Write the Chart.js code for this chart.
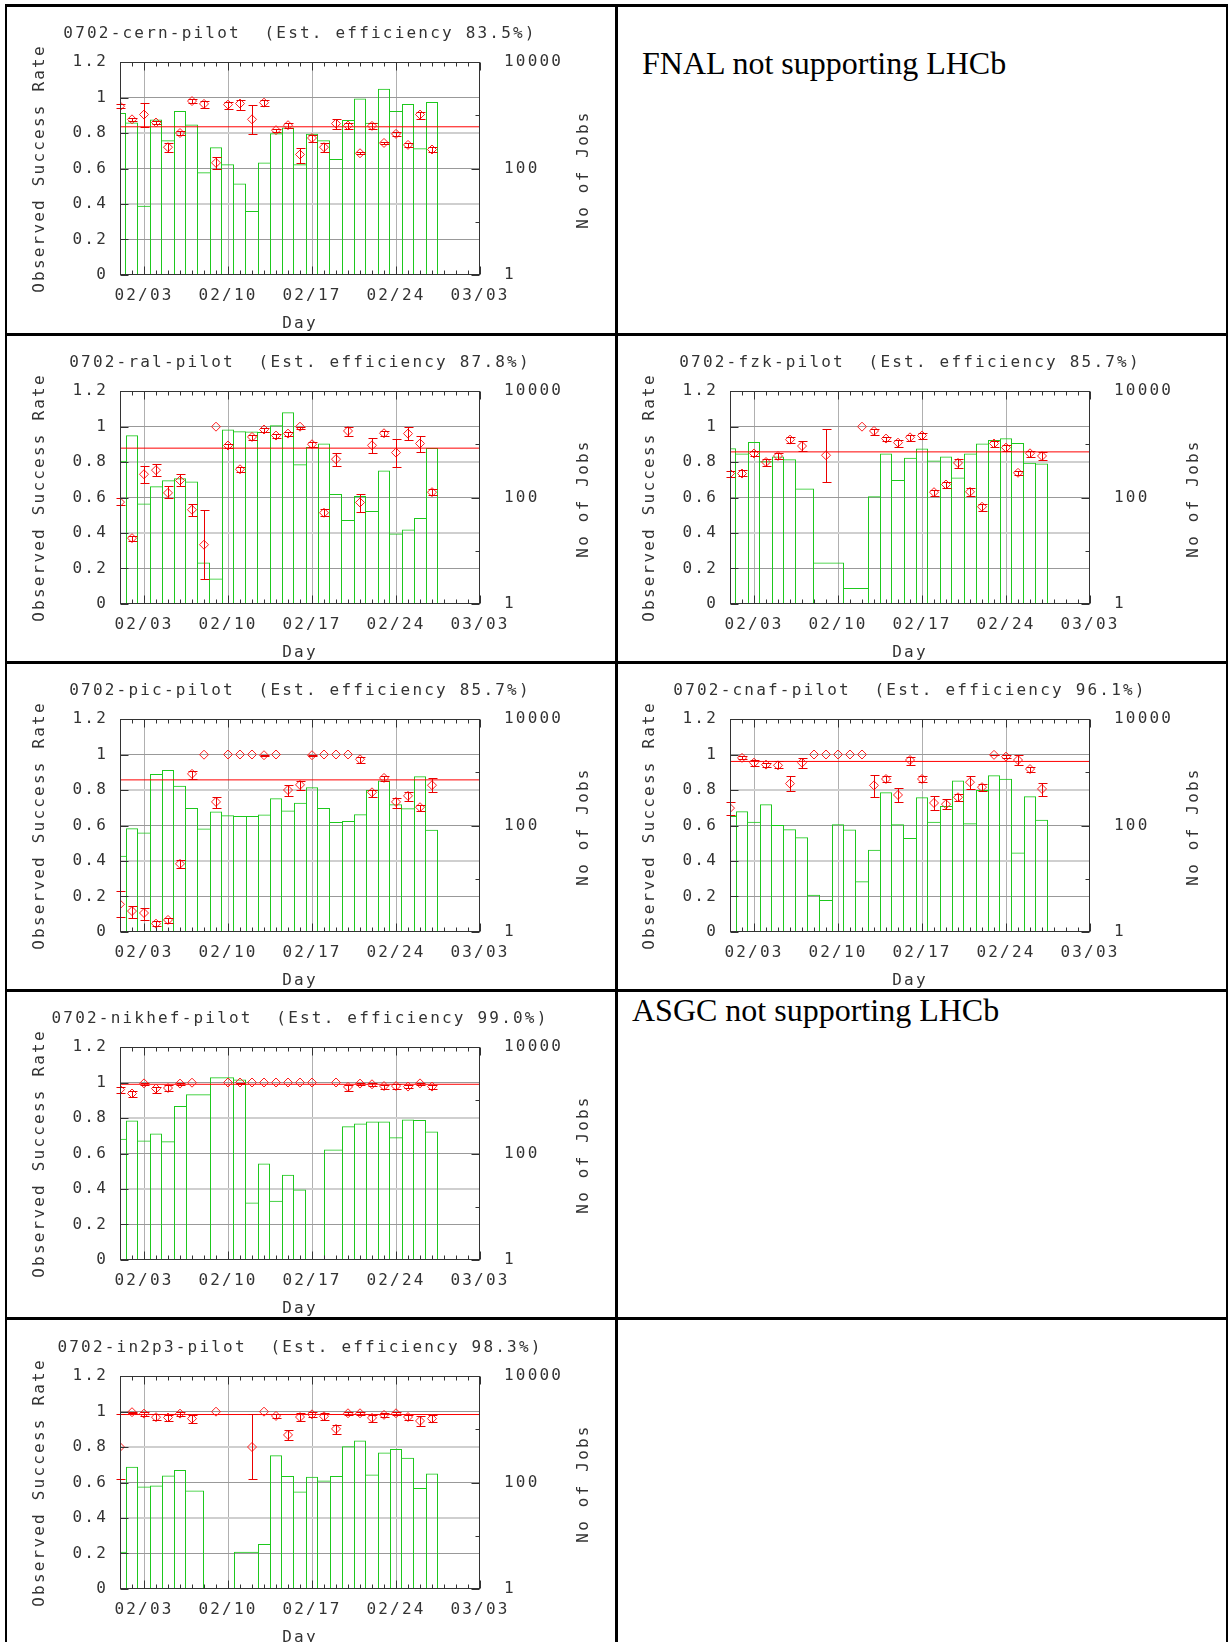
<!DOCTYPE html>
<html lang="en">
<head>
  <meta charset="UTF-8" />
  <title>0702 pilot efficiency</title>
  <script src="https://cdn.jsdelivr.net/npm/chart.js"></script>
  <style>
    body { margin: 0; background: #fff; overflow: hidden; }
    .rule { position: absolute; background: #000; }
    .plot { position: absolute; }
    .note { position: absolute; font-family: "Liberation Serif", "Times New Roman", serif; font-size: 32px; line-height: 32px; white-space: nowrap; color: #000; }
  </style>
</head>
<body>
  <!-- table rules -->
  <div class="rule" style="left:5px; top:4px; width:1223px; height:3px"></div>
  <div class="rule" style="left:5px; top:333px; width:1223px; height:3px"></div>
  <div class="rule" style="left:5px; top:661px; width:1223px; height:3px"></div>
  <div class="rule" style="left:5px; top:989px; width:1223px; height:3px"></div>
  <div class="rule" style="left:5px; top:1317px; width:1223px; height:3px"></div>
  <div class="rule" style="left:5px; top:4px; width:2px; height:1638px"></div>
  <div class="rule" style="left:615px; top:4px; width:3px; height:1638px"></div>
  <div class="rule" style="left:1226px; top:4px; width:2px; height:1638px"></div>

  <canvas class="plot" id="cern" width="608" height="326" style="left:7px; top:7px"></canvas>
  <div class="note" style="left:642px; top:47px">FNAL not supporting LHCb</div>
  <canvas class="plot" id="ral" width="608" height="326" style="left:7px; top:336px"></canvas>
  <canvas class="plot" id="fzk" width="608" height="326" style="left:617px; top:336px"></canvas>
  <canvas class="plot" id="pic" width="608" height="326" style="left:7px; top:664px"></canvas>
  <canvas class="plot" id="cnaf" width="608" height="326" style="left:617px; top:664px"></canvas>
  <canvas class="plot" id="nikhef" width="608" height="326" style="left:7px; top:992px"></canvas>
  <div class="note" style="left:632px; top:994px">ASGC not supporting LHCb</div>
  <canvas class="plot" id="in2p3" width="608" height="326" style="left:7px; top:1321px"></canvas>

  <script>
    // axes (day 1 = 02/01)
    const xTickDays = [3, 10, 17, 24, 31];
    const xTickLabels = ['02/03', '02/10', '02/17', '02/24', '03/03'];
    const yTickValues = [0, 0.2, 0.4, 0.6, 0.8, 1, 1.2];
    const yTickLabels = ['0', '0.2', '0.4', '0.6', '0.8', '1', '1.2'];
    const jobsTickValues = [1, 10, 100, 1000, 10000];
    const jobsTickLabels = ['1', '', '100', '', '10000'];
    const xTitle = 'Day';
    const yTitle = 'Observed Success Rate';
    const jobsTitle = 'No of Jobs';

    const days27 = [1, 2, 3, 4, 5, 6, 7, 8, 9, 10, 11, 12, 13, 14, 15, 16, 17, 18, 19, 20, 21, 22, 23, 24, 25, 26, 27];

    // cern
    const cernEff = 0.835;
    const cernRate = [0.951, 0.877, 0.904, 0.859, 0.72, 0.80, 0.98, 0.964, 0.632, 0.96, 0.966, 0.877, 0.971, 0.816, 0.844, 0.679, 0.772, 0.72, 0.853, 0.842, 0.686, 0.84, 0.744, 0.795, 0.733, 0.904, 0.707];
    const cernLo = [0.94, 0.87, 0.833, 0.85, 0.692, 0.79, 0.97, 0.943, 0.60, 0.936, 0.932, 0.797, 0.951, 0.808, 0.827, 0.632, 0.752, 0.692, 0.825, 0.825, 0.679, 0.823, 0.736, 0.782, 0.723, 0.881, 0.692];
    const cernHi = [0.962, 0.885, 0.97, 0.87, 0.744, 0.81, 0.99, 0.98, 0.662, 0.973, 0.988, 0.958, 0.984, 0.824, 0.857, 0.718, 0.791, 0.744, 0.881, 0.855, 0.693, 0.855, 0.752, 0.808, 0.743, 0.921, 0.722];
    const cernJobs = [1100, 730, 20, 830, 340, 1200, 670, 85, 250, 120, 52, 16, 130, 460, 590, 120, 450, 340, 150, 810, 2060, 720, 3160, 1200, 1630, 240, 1780];

    // ral
    const ralEff = 0.878;
    const ralRate = [0.574, 0.371, 0.731, 0.754, 0.626, 0.696, 0.531, 0.334, 0.999, 0.893, 0.759, 0.941, 0.983, 0.949, 0.96, 0.999, 0.90, 0.514, 0.816, 0.975, 0.572, 0.894, 0.962, 0.853, 0.96, 0.904, 0.63];
    const ralLo = [0.555, 0.356, 0.681, 0.722, 0.596, 0.662, 0.493, 0.141, 0.999, 0.881, 0.746, 0.924, 0.969, 0.934, 0.947, 0.988, 0.887, 0.493, 0.78, 0.949, 0.521, 0.853, 0.947, 0.771, 0.924, 0.857, 0.613];
    const ralHi = [0.60, 0.384, 0.78, 0.786, 0.662, 0.733, 0.566, 0.529, 0.999, 0.902, 0.774, 0.953, 0.994, 0.96, 0.971, 1.0, 0.911, 0.534, 0.853, 0.996, 0.621, 0.934, 0.975, 0.93, 1.0, 0.949, 0.649];
    const ralJobs = [490, 1480, 77, 163, 210, 230, 200, 6, 3, 1890, 1750, 1740, 1690, 2280, 3980, 420, 890, 1030, 116, 38, 107, 56, 320, 21, 25, 41, 850];

    // fzk
    const fzkEff = 0.857;
    const fzkDays = [1, 2, 3, 4, 5, 6, 7, 9, 12, 13, 14, 15, 16, 17, 18, 19, 20, 21, 22, 23, 24, 25, 26, 27];
    const fzkRate = [0.735, 0.735, 0.848, 0.80, 0.834, 0.926, 0.89, 0.838, 0.999, 0.975, 0.932, 0.909, 0.939, 0.949, 0.63, 0.673, 0.795, 0.632, 0.548, 0.904, 0.881, 0.739, 0.849, 0.834];
    const fzkLo = [0.718, 0.72, 0.831, 0.778, 0.816, 0.906, 0.861, 0.686, 0.999, 0.954, 0.917, 0.885, 0.921, 0.932, 0.608, 0.651, 0.769, 0.611, 0.523, 0.887, 0.862, 0.724, 0.83, 0.812];
    const fzkHi = [0.752, 0.756, 0.862, 0.816, 0.853, 0.943, 0.919, 0.986, 0.999, 0.988, 0.943, 0.926, 0.953, 0.964, 0.645, 0.69, 0.819, 0.651, 0.564, 0.917, 0.893, 0.752, 0.864, 0.857];
    const fzkJobs = [845, 670, 1100, 480, 590, 525, 148, 6, 2, 105, 670, 212, 560, 830, 494, 590, 238, 670, 1030, 1200, 1300, 1060, 447, 433];

    // pic
    const picEff = 0.857;
    const picRate = [0.156, 0.118, 0.107, 0.047, 0.068, 0.384, 0.891, 0.999, 0.733, 1.0, 1.0, 1.0, 0.996, 1.0, 0.80, 0.829, 0.996, 1.0, 1.0, 1.0, 0.973, 0.787, 0.868, 0.733, 0.767, 0.703, 0.827];
    const picLo = [0.084, 0.081, 0.068, 0.032, 0.053, 0.36, 0.861, 0.999, 0.698, 1.0, 1.0, 1.0, 0.99, 1.0, 0.767, 0.801, 0.99, 1.0, 1.0, 1.0, 0.954, 0.763, 0.849, 0.70, 0.739, 0.681, 0.786];
    const picHi = [0.231, 0.146, 0.137, 0.06, 0.079, 0.403, 0.909, 0.999, 0.759, 1.0, 1.0, 1.0, 1.0, 1.0, 0.829, 0.851, 1.0, 1.0, 1.0, 1.0, 0.984, 0.801, 0.878, 0.754, 0.789, 0.716, 0.866];
    const picJobs = [27, 89, 74, 930, 1100, 560, 212, 88, 183, 156, 151, 151, 161, 326, 191, 267, 525, 212, 116, 122, 163, 464, 697, 251, 210, 845, 83];

    // cnaf
    const cnafEff = 0.961;
    const cnafRate = [0.698, 0.981, 0.954, 0.943, 0.939, 0.836, 0.954, 1.0, 1.0, 1.0, 1.0, 1.0, 0.826, 0.862, 0.772, 0.969, 0.862, 0.727, 0.72, 0.759, 0.844, 0.816, 0.998, 0.988, 0.969, 0.918, 0.806];
    const cnafLo = [0.66, 0.973, 0.934, 0.93, 0.922, 0.797, 0.926, 1.0, 1.0, 1.0, 1.0, 1.0, 0.759, 0.847, 0.735, 0.943, 0.843, 0.685, 0.692, 0.737, 0.806, 0.797, 0.995, 0.979, 0.94, 0.904, 0.767];
    const cnafHi = [0.735, 0.99, 0.971, 0.954, 0.962, 0.878, 0.98, 1.0, 1.0, 1.0, 1.0, 1.0, 0.887, 0.877, 0.81, 0.988, 0.881, 0.765, 0.748, 0.776, 0.878, 0.833, 1.0, 0.997, 0.999, 0.931, 0.839];
    const cnafJobs = [150, 185, 118, 251, 102, 85, 60, 5, 4, 106, 84, 9, 35, 423, 106, 58, 339, 118, 233, 697, 110, 464, 878, 759, 31, 355, 128];

    // nikhef
    const nikhefEff = 0.99;
    const nikhefDays = [1, 2, 3, 4, 5, 6, 7, 10, 11, 12, 13, 14, 15, 16, 17, 19, 20, 21, 22, 23, 24, 25, 26, 27];
    const nikhefRate = [0.96, 0.938, 0.995, 0.966, 0.969, 0.994, 0.999, 1.0, 1.0, 1.0, 1.0, 1.0, 1.0, 1.0, 1.0, 1.0, 0.975, 0.994, 0.99, 0.98, 0.98, 0.977, 0.995, 0.977];
    const nikhefLo = [0.943, 0.919, 0.985, 0.943, 0.951, 0.986, 0.999, 1.0, 0.99, 1.0, 1.0, 1.0, 1.0, 1.0, 1.0, 1.0, 0.954, 0.986, 0.982, 0.966, 0.966, 0.97, 0.988, 0.962];
    const nikhefHi = [0.975, 0.951, 1.0, 0.977, 0.988, 1.0, 0.999, 1.0, 1.0, 1.0, 1.0, 1.0, 1.0, 1.0, 1.0, 1.0, 0.984, 1.0, 0.997, 0.988, 0.99, 0.984, 1.0, 0.984];
    const nikhefJobs = [189, 417, 175, 238, 169, 782, 1300, 2710, 2440, 12, 65, 13, 40, 21, 1, 119, 326, 366, 398, 398, 203, 433, 427, 259];

    // in2p3
    const in2p3Eff = 0.983;
    const in2p3Days = [1, 2, 3, 4, 5, 6, 7, 9, 12, 13, 14, 15, 16, 17, 18, 19, 20, 21, 22, 23, 24, 25, 26, 27];
    const in2p3Rate = [0.80, 0.996, 0.988, 0.968, 0.966, 0.988, 0.96, 0.999, 0.80, 0.999, 0.975, 0.868, 0.969, 0.984, 0.973, 0.902, 0.99, 0.99, 0.964, 0.981, 0.99, 0.969, 0.947, 0.96];
    const in2p3Lo = [0.622, 0.99, 0.973, 0.951, 0.947, 0.973, 0.934, 0.999, 0.622, 0.999, 0.966, 0.84, 0.947, 0.969, 0.953, 0.876, 0.981, 0.983, 0.943, 0.97, 0.98, 0.954, 0.921, 0.941];
    const in2p3Hi = [0.984, 1.0, 1.0, 0.984, 0.982, 1.0, 0.982, 0.999, 0.984, 0.999, 0.985, 0.898, 0.99, 0.998, 0.99, 0.926, 0.999, 0.997, 0.982, 0.99, 0.999, 0.982, 0.975, 0.979];
    const in2p3Jobs = [5, 197, 84, 88, 135, 172, 71, 1, 5, 7, 326, 132, 68, 128, 109, 132, 479, 612, 141, 366, 427, 291, 79, 148];

    const sites = [
      { id: 'cern', eff: cernEff, days: days27, rate: cernRate, lo: cernLo, hi: cernHi, jobs: cernJobs },
      { id: 'ral', eff: ralEff, days: days27, rate: ralRate, lo: ralLo, hi: ralHi, jobs: ralJobs },
      { id: 'fzk', eff: fzkEff, days: fzkDays, rate: fzkRate, lo: fzkLo, hi: fzkHi, jobs: fzkJobs },
      { id: 'pic', eff: picEff, days: days27, rate: picRate, lo: picLo, hi: picHi, jobs: picJobs },
      { id: 'cnaf', eff: cnafEff, days: days27, rate: cnafRate, lo: cnafLo, hi: cnafHi, jobs: cnafJobs },
      { id: 'nikhef', eff: nikhefEff, days: nikhefDays, rate: nikhefRate, lo: nikhefLo, hi: nikhefHi, jobs: nikhefJobs },
      { id: 'in2p3', eff: in2p3Eff, days: in2p3Days, rate: in2p3Rate, lo: in2p3Lo, hi: in2p3Hi, jobs: in2p3Jobs }
    ];

    const mono = { family: "'DejaVu Sans Mono', monospace", size: 16, weight: 'normal' };
    const ink = '#333';
    const gap = '2.2px';

    // gnuplot-ish text spacing
    const spacing = {
      id: 'spacing',
      beforeDraw(chart) { chart.ctx.letterSpacing = gap; }
    };

    const errorBars = {
      id: 'errorBars',
      afterDatasetsDraw(chart) {
        const ds = chart.data.datasets[0];
        const { x, y } = chart.scales;
        const ctx = chart.ctx;
        ctx.save();
        ctx.strokeStyle = 'rgb(235,0,0)';
        ctx.lineWidth = 1;
        ctx.beginPath();
        ds.data.forEach((p, i) => {
          const lo = ds.errLo[i], hi = ds.errHi[i];
          if (hi - lo < 0.002) return;
          const px = Math.round(x.getPixelForValue(p.x)) + 0.5;
          const y1 = Math.round(y.getPixelForValue(lo)) + 0.5;
          const y2 = Math.round(y.getPixelForValue(hi)) + 0.5;
          ctx.moveTo(px, y1); ctx.lineTo(px, y2);
          ctx.moveTo(px - 4, y1); ctx.lineTo(px + 5, y1);
          ctx.moveTo(px - 4, y2); ctx.lineTo(px + 5, y2);
        });
        ctx.stroke();
        ctx.restore();
      }
    };

    // plot box, inward ticks and the right axis title
    const frame = {
      id: 'frame',
      afterDatasetsDraw(chart) {
        const { ctx, chartArea: a, scales } = chart;
        const l = Math.round(a.left) + 0.5, r = Math.round(a.right) - 0.5;
        const t = Math.round(a.top) + 0.5, b = Math.round(a.bottom) - 0.5;
        ctx.save();
        ctx.strokeStyle = '#333';
        ctx.lineWidth = 1;
        ctx.beginPath();
        for (let d = 1; d <= 31; d++) {
          const px = Math.round(scales.x.getPixelForValue(d)) + 0.5;
          const len = xTickDays.includes(d) ? 8 : 4;
          ctx.moveTo(px, t); ctx.lineTo(px, t + len);
          ctx.moveTo(px, b); ctx.lineTo(px, b - len);
        }
        yTickValues.forEach(v => {
          const py = Math.round(scales.y.getPixelForValue(v)) + 0.5;
          ctx.moveTo(l, py); ctx.lineTo(l + 8, py);
        });
        jobsTickValues.forEach((v, i) => {
          const py = Math.round(scales.jobs.getPixelForValue(v)) + 0.5;
          ctx.moveTo(r, py); ctx.lineTo(r - (jobsTickLabels[i] ? 8 : 4), py);
        });
        ctx.stroke();
        ctx.strokeRect(l, t, r - l, b - t);

        ctx.font = "16px 'DejaVu Sans Mono', monospace";
        ctx.fillStyle = ink;
        ctx.letterSpacing = gap;
        ctx.translate(a.right + 104, (a.top + a.bottom) / 2 + 1);
        ctx.rotate(-Math.PI / 2);
        ctx.textAlign = 'center';
        ctx.textBaseline = 'middle';
        ctx.fillText(jobsTitle, 0, 0);
        ctx.restore();
      }
    };

    function makeChart(s) {
      const n = s.days.length;
      new Chart(document.getElementById(s.id), {
        type: 'line',
        data: {
          datasets: [
            {
              data: s.days.map((d, i) => ({ x: d, y: s.rate[i] })),
              errLo: s.lo,
              errHi: s.hi,
              showLine: false,
              pointStyle: 'rectRot',
              pointRadius: 4.5,
              pointBorderWidth: 1,
              pointBorderColor: 'rgb(255,30,30)',
              pointBackgroundColor: 'rgba(0,0,0,0)',
              yAxisID: 'y'
            },
            {
              data: [{ x: 1, y: s.eff }, { x: 31, y: s.eff }],
              borderColor: '#ff0000',
              borderWidth: 1,
              pointRadius: 0,
              yAxisID: 'y'
            },
            {
              type: 'bar',
              data: s.days.map((d, i) => ({ x: d, y: s.jobs[i] })),
              yAxisID: 'jobs',
              backgroundColor: 'rgba(0,0,0,0)',
              borderColor: 'rgb(30,200,30)',
              borderWidth: c => {
                if (c.type !== 'data') return 1;
                const v = c.dataset.data, i = c.dataIndex, h = v[i].y;
                return {
                  top: 1,
                  left: i === 0 || h >= v[i - 1].y ? 1 : 0,
                  right: i === n - 1 || h > v[i + 1].y ? 1 : 0,
                  bottom: 0
                };
              },
              inflateAmount: 0,
              barThickness: 'flex',
              categoryPercentage: 1,
              barPercentage: 1
            }
          ]
        },
        options: {
          responsive: false,
          animation: false,
          events: [],
          layout: { padding: { left: 0, right: 22, top: 0, bottom: 0 } },
          plugins: {
            legend: { display: false },
            tooltip: { enabled: false },
            title: {
              display: true,
              text: '0702-' + s.id + '-pilot  (Est. efficiency ' + (s.eff * 100).toFixed(1) + '%)',
              font: mono,
              color: ink,
              padding: { top: 17, bottom: 18.8 }
            }
          },
          scales: {
            x: {
              type: 'linear',
              min: 1,
              max: 31,
              offset: false,
              afterBuildTicks: sc => { sc.ticks = xTickDays.map(v => ({ value: v })); },
              afterFit: sc => { sc.height = 58; },
              ticks: { callback: (v, i) => xTickLabels[i], font: mono, color: ink, padding: 11, autoSkip: false, maxRotation: 0 },
              grid: { offset: false, drawTicks: false, color: c => (c.tick && c.tick.value === 31) ? 'rgba(0,0,0,0)' : '#b0b0b0' },
              border: { display: false },
              title: { display: true, text: xTitle, font: mono, color: ink, padding: { top: 0, bottom: 0 } }
            },
            y: {
              position: 'left',
              min: 0,
              max: 1.2,
              afterBuildTicks: sc => { sc.ticks = yTickValues.map(v => ({ value: v })); },
              afterFit: sc => { sc.width = 113; },
              ticks: { callback: (v, i) => yTickLabels[i], font: mono, color: ink, padding: 12, autoSkip: false },
              grid: {
                drawTicks: false,
                color: c => {
                  const v = c.tick ? c.tick.value : -1;
                  if (v === 0 || v === 1.2) return 'rgba(0,0,0,0)';
                  return (v === 0.4 || v === 0.8) ? '#cfcfcf' : '#999999';
                },
                lineWidth: c => (c.tick && (c.tick.value === 0.4 || c.tick.value === 0.8)) ? 2 : 1
              },
              border: { display: false },
              title: { display: true, text: yTitle, font: mono, color: ink, padding: { top: 23, bottom: 0 } }
            },
            jobs: {
              type: 'logarithmic',
              position: 'right',
              min: 1,
              max: 10000,
              afterBuildTicks: sc => { sc.ticks = jobsTickValues.map(v => ({ value: v })); },
              afterFit: sc => { sc.width = 113; },
              ticks: { callback: (v, i) => jobsTickLabels[i], font: mono, color: ink, padding: 24, autoSkip: false },
              grid: { display: false, drawTicks: false },
              border: { display: false }
            }
          }
        },
        plugins: [spacing, errorBars, frame]
      });
    }

    sites.forEach(makeChart);
  </script>
</body>
</html>
